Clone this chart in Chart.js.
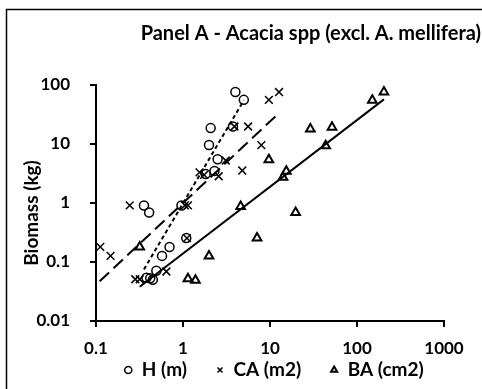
<!DOCTYPE html>
<html>
<head>
<meta charset="utf-8">
<script src="https://cdn.jsdelivr.net/npm/chart.js@4/dist/chart.umd.min.js"></script>
<style>
  html, body { margin: 0; padding: 0; background: #fff; }
</style>
</head>
<body>
<canvas id="chart" width="482" height="389"></canvas>
<script>
// H (m) vs biomass (kg)
var hX = [4.0, 5.0, 2.08, 1.99, 3.75, 2.5, 2.3, 1.82, 0.356, 0.408, 0.96, 1.09, 0.70, 0.574, 0.494, 0.38, 0.45, 0.42];
var hY = [76, 56, 18.6, 9.6, 19.8, 5.5, 3.5, 3.1, 0.91, 0.69, 0.91, 0.254, 0.18, 0.127, 0.071, 0.054, 0.05, 0.053];

// CA (m2) vs biomass
var caX = [12.7, 9.7, 5.6, 3.9, 7.95, 4.8, 3.1, 2.57, 1.55, 1.75, 0.244, 1.05, 1.14, 1.11, 0.112, 0.147, 0.283, 0.318, 0.644];
var caY = [76, 56, 19.8, 19.8, 9.6, 3.55, 5.25, 2.84, 3.3, 3.0, 0.91, 0.91, 0.91, 0.254, 0.18, 0.127, 0.051, 0.051, 0.069];

// BA (cm2) vs biomass
var baX = [204, 150, 51.6, 29.1, 43.6, 9.7, 15.4, 14.1, 19.7, 4.6, 7.1, 1.99, 1.14, 1.39, 0.318];
var baY = [76, 55, 19.3, 18, 9.3, 5.4, 3.45, 2.73, 0.69, 0.87, 0.254, 0.127, 0.052, 0.049, 0.18];

// power trend lines (end points)
var hFitX = [0.356, 5.0];
var hFitY = [0.075, 55];
var caFitX = [0.11, 12];
var caFitY = [0.047, 31];
var baFitX = [0.318, 204];
var baFitY = [0.038, 57];

var seriesNames = ['H (m)', 'CA (m2)', 'BA (cm2)'];
var xTicks = [0.1, 1, 10, 100, 1000];
var xTickLabels = ['0.1', '1', '10', '100', '1000'];
var yTicks = [0.01, 0.1, 1, 10, 100];
var yTickLabels = ['0.01', '0.1', '1', '10', '100'];
var titleText = 'Panel A - Acacia spp (excl. A. mellifera)';
var yTitle = 'Biomass (kg)';

function pts(xs, ys) {
    return xs.map(function (x, i) { return {x: x, y: ys[i]}; });
}

var FONT = 'Lato';
var LEGEND_SIZE = 19;

// outer frame, panel title, y axis title; also puts the legend row where the reference has it
var panelDecor = {
    id: 'panelDecor',
    afterLayout: function (chart) {
        var lg = chart.legend;
        var pad = lg.options.labels.padding;
        var w = lg.width;
        lg.top = 370 - pad - LEGEND_SIZE / 2;
        lg.bottom = 389;
        lg.height = lg.bottom - lg.top;
        lg.left = 274 - w / 2;
        lg.right = lg.left + w;
    },
    afterDraw: function (chart) {
        var ctx = chart.ctx;
        ctx.save();
        ctx.strokeStyle = '#000';
        ctx.lineWidth = 1.5;
        ctx.beginPath();
        ctx.moveTo(6.5, 400);
        ctx.lineTo(6.5, 9.5);
        ctx.lineTo(490, 9.5);
        ctx.stroke();
        ctx.fillStyle = '#000';
        ctx.font = 'bold 20px ' + FONT;
        ctx.textAlign = 'right';
        ctx.textBaseline = 'middle';
        ctx.fillText(titleText, 481, 34);
        ctx.translate(32, 213);
        ctx.rotate(-Math.PI / 2);
        ctx.textAlign = 'center';
        ctx.font = 'bold 19px ' + FONT;
        ctx.fillText(yTitle, 0, 0);
        ctx.restore();
    }
};

function axisOpts(ticks, labels) {
    return {
        type: 'logarithmic',
        min: ticks[0],
        max: ticks[ticks.length - 1],
        grid: {drawOnChartArea: false, drawTicks: true, tickLength: 6, color: '#000', lineWidth: 2},
        border: {color: '#000', width: 2},
        ticks: {
            color: '#000',
            font: {family: FONT, size: 17, weight: 'bold'},
            autoSkip: false,
            maxRotation: 0,
            callback: function (v, i) { return labels[i]; }
        },
        afterBuildTicks: function (s) {
            s.ticks = ticks.map(function (v) { return {value: v}; });
        }
    };
}

var xOpts = axisOpts(xTicks, xTickLabels);
xOpts.position = 'bottom';
xOpts.ticks.padding = 11;
xOpts.afterFit = function (s) { s.height = 38; };

var yOpts = axisOpts(yTicks, yTickLabels);
yOpts.position = 'left';
yOpts.ticks.padding = 20;
yOpts.afterFit = function (s) { s.width = 90; };

var ctx = document.getElementById('chart').getContext('2d');
var chart = new Chart(ctx, {
    type: 'scatter',
    data: {
        datasets: [
            {
                label: seriesNames[0],
                data: pts(hX, hY),
                pointStyle: 'circle',
                pointRadius: 4.5,
                borderWidth: 1.5,
                borderColor: '#000',
                backgroundColor: 'rgba(255,255,255,0)'
            },
            {
                label: seriesNames[1],
                data: pts(caX, caY),
                pointStyle: 'crossRot',
                pointRadius: 5.5,
                borderWidth: 1.5,
                borderColor: '#000',
                backgroundColor: 'rgba(255,255,255,0)'
            },
            {
                label: seriesNames[2],
                data: pts(baX, baY),
                pointStyle: 'triangle',
                pointRadius: 5,
                borderWidth: 2,
                borderColor: '#000',
                backgroundColor: 'rgba(255,255,255,0)'
            },
            {
                label: 'H fit',
                data: pts(hFitX, hFitY),
                showLine: true,
                pointRadius: 0,
                borderColor: '#000',
                borderWidth: 2,
                borderDash: [4, 3]
            },
            {
                label: 'CA fit',
                data: pts(caFitX, caFitY),
                showLine: true,
                pointRadius: 0,
                borderColor: '#000',
                borderWidth: 2,
                borderDash: [13, 6]
            },
            {
                label: 'BA fit',
                data: pts(baFitX, baFitY),
                showLine: true,
                pointRadius: 0,
                borderColor: '#000',
                borderWidth: 2
            }
        ]
    },
    options: {
        responsive: false,
        animation: false,
        events: [],
        layout: {
            padding: {left: 6, right: 38, top: 85, bottom: 10}
        },
        scales: {x: xOpts, y: yOpts},
        plugins: {
            legend: {
                display: true,
                position: 'bottom',
                maxHeight: 20,
                labels: {
                    usePointStyle: true,
                    boxWidth: 8,
                    boxHeight: 5,
                    padding: 29,
                    color: '#000',
                    font: {family: FONT, size: LEGEND_SIZE, weight: 'bold'},
                    filter: function (item) { return item.datasetIndex < 3; }
                }
            },
            title: {display: false},
            tooltip: {enabled: false}
        }
    },
    plugins: [panelDecor]
});
</script>
</body>
</html>
